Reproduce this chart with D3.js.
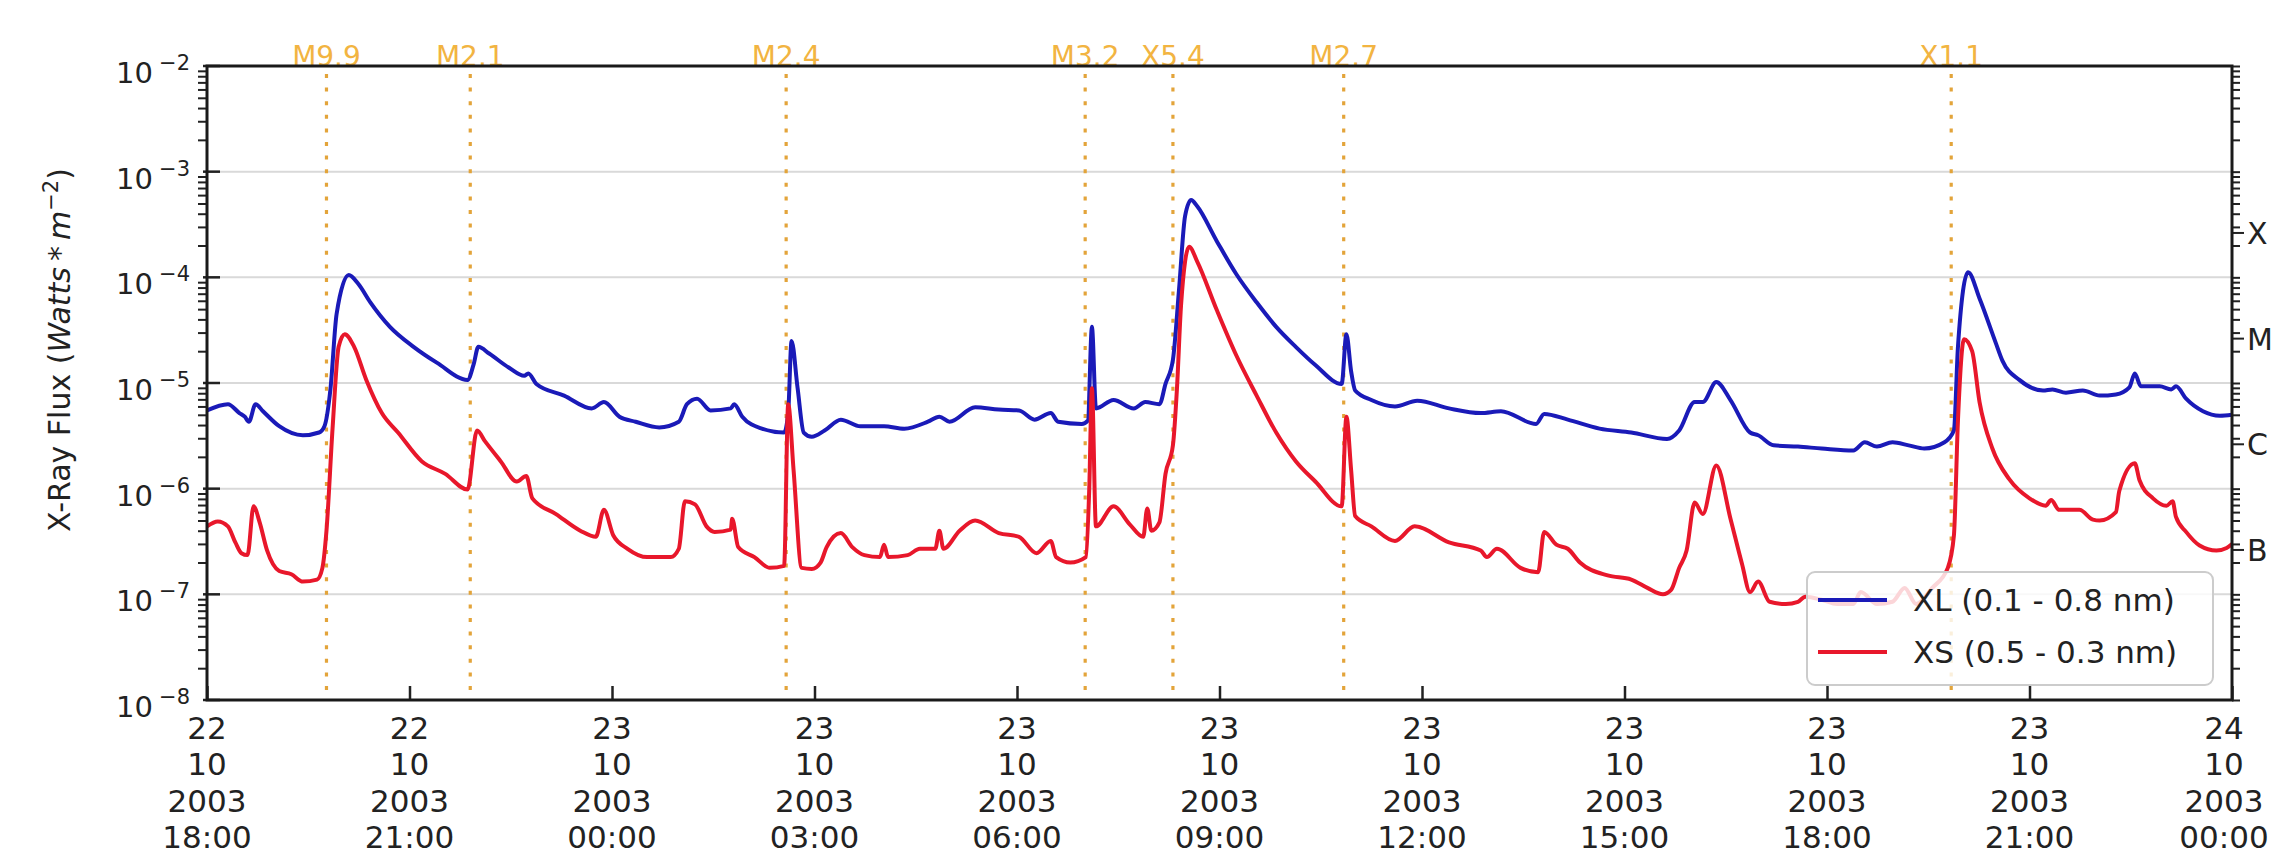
<!DOCTYPE html>
<html>
<head>
<meta charset="utf-8">
<script src="https://cdn.jsdelivr.net/npm/d3@7/dist/d3.min.js"></script>
<style>
html,body{margin:0;padding:0;background:#fff;}
svg{display:block;font-family:"DejaVu Sans",sans-serif;}
</style>
</head>
<body>
<svg id="chart" width="2272" height="857"></svg>
<script>
// ---------------- DATA ----------------
// time axis: hours after 2003-10-22 18:00 UTC
const startTime = "2003-10-22T18:00:00Z";
const endTime   = "2003-10-24T00:00:00Z";
const tickTimes = ["2003-10-22T18:00:00Z","2003-10-22T21:00:00Z","2003-10-23T00:00:00Z","2003-10-23T03:00:00Z",
  "2003-10-23T06:00:00Z","2003-10-23T09:00:00Z","2003-10-23T12:00:00Z","2003-10-23T15:00:00Z",
  "2003-10-23T18:00:00Z","2003-10-23T21:00:00Z","2003-10-24T00:00:00Z"];
const yTickExponents = [-2,-3,-4,-5,-6,-7,-8];

// XL (0.1 - 0.8 nm)
const xlHours = [0.00,0.31,0.48,0.56,0.62,0.72,0.83,1.07,1.42,1.66,1.74,1.83,1.92,2.10,2.24,2.42,2.71,3.06,3.41,3.86,3.95,4.02,4.18,4.47,4.70,4.76,4.88,5.29,5.70,5.88,6.11,6.35,6.70,6.99,7.11,7.26,7.46,7.76,7.81,7.93,8.22,8.55,8.61,8.66,8.75,8.84,8.96,9.15,9.39,9.68,10.03,10.33,10.68,10.85,11.00,11.38,11.73,12.03,12.26,12.50,12.61,12.96,13.05,13.11,13.17,13.43,13.73,13.90,14.11,14.20,14.31,14.40,14.49,14.58,14.67,14.96,15.25,15.55,15.84,16.13,16.42,16.81,16.88,16.95,17.01,17.25,17.60,17.93,18.40,18.87,19.17,19.69,19.81,20.16,20.63,21.10,21.63,21.81,22.04,22.16,22.36,22.57,22.86,22.98,23.21,23.57,23.92,24.39,24.56,24.74,24.97,25.21,25.44,25.74,25.88,25.94,26.09,26.26,26.50,26.60,26.85,27.20,27.34,27.54,27.79,28.04,28.28,28.48,28.56,28.65,28.93,29.10,29.17,29.32,29.57,29.82,30.00];
const xlFlux = [5.5e-6,6.3e-6,5.2e-6,4.8e-6,4.3e-6,6.3e-6,5.4e-6,3.9e-6,3.2e-6,3.4e-6,3.9e-6,8.9e-6,4.5e-5,1.05e-4,8.7e-5,5.8e-5,3.4e-5,2.2e-5,1.55e-5,1.07e-5,1.5e-5,2.2e-5,1.9e-5,1.4e-5,1.17e-5,1.23e-5,9.8e-6,7.6e-6,5.75e-6,6.6e-6,4.8e-6,4.3e-6,3.8e-6,4.3e-6,6.3e-6,7.1e-6,5.5e-6,5.75e-6,6.3e-6,4.8e-6,3.7e-6,3.4e-6,5.2e-6,2.5e-5,8.9e-6,3.4e-6,3.1e-6,3.55e-6,4.5e-6,3.9e-6,3.9e-6,3.7e-6,4.3e-6,4.8e-6,4.3e-6,5.9e-6,5.6e-6,5.5e-6,4.5e-6,5.2e-6,4.3e-6,4.1e-6,4.4e-6,3.4e-5,5.75e-6,6.9e-6,5.75e-6,6.6e-6,6.3e-6,9.8e-6,1.66e-5,7.6e-5,3.8e-4,5.4e-4,4.7e-4,2.2e-4,1.07e-4,5.8e-5,3.4e-5,2.2e-5,1.48e-5,9.8e-6,2.9e-5,1.29e-5,8.5e-6,6.9e-6,6.0e-6,6.8e-6,5.75e-6,5.2e-6,5.4e-6,4.1e-6,5.1e-6,4.5e-6,3.7e-6,3.4e-6,2.95e-6,3.55e-6,6.6e-6,6.6e-6,1.02e-5,6.9e-6,3.4e-6,3.2e-6,2.57e-6,2.5e-6,2.4e-6,2.3e-6,2.75e-6,2.5e-6,2.75e-6,2.57e-6,2.4e-6,2.75e-6,3.55e-6,2.2e-5,1.12e-4,6.3e-5,2.4e-5,1.62e-5,1.07e-5,8.5e-6,8.7e-6,8.1e-6,8.5e-6,7.6e-6,7.8e-6,9.1e-6,1.23e-5,9.3e-6,9.3e-6,8.7e-6,9.3e-6,7.1e-6,5.4e-6,4.9e-6,5.0e-6];

// XS (0.5 - 0.3 nm)
const xsHours = [0.00,0.16,0.31,0.42,0.51,0.60,0.69,0.78,0.89,1.07,1.25,1.42,1.63,1.71,1.77,1.86,1.95,2.04,2.18,2.36,2.59,2.83,3.18,3.53,3.86,4.00,4.12,4.35,4.59,4.73,4.82,5.17,5.53,5.76,5.88,6.02,6.23,6.52,6.87,6.99,7.08,7.23,7.40,7.52,7.76,7.78,7.87,8.11,8.34,8.55,8.61,8.69,8.81,8.96,9.09,9.18,9.39,9.56,9.74,9.97,10.03,10.09,10.38,10.56,10.79,10.85,10.91,11.15,11.38,11.73,12.03,12.29,12.50,12.58,12.79,13.02,13.07,13.11,13.17,13.43,13.67,13.87,13.93,13.99,14.11,14.20,14.31,14.37,14.43,14.55,14.67,14.96,15.25,15.55,15.84,16.13,16.42,16.81,16.88,16.95,17.01,17.25,17.60,17.89,18.40,18.87,18.96,19.11,19.46,19.72,19.81,19.99,20.16,20.34,20.75,21.10,21.34,21.57,21.69,21.81,21.92,22.04,22.16,22.36,22.57,22.74,22.86,22.98,23.15,23.39,23.57,23.68,23.92,24.15,24.39,24.50,24.74,24.97,25.15,25.32,25.56,25.79,25.88,25.94,26.03,26.15,26.26,26.45,26.70,27.00,27.24,27.32,27.44,27.74,27.94,28.04,28.28,28.33,28.56,28.63,28.83,29.03,29.12,29.17,29.32,29.52,29.77,29.92,30.00];
const xsFlux = [4.4e-7,4.9e-7,4.4e-7,3.1e-7,2.45e-7,2.35e-7,6.8e-7,4.8e-7,2.6e-7,1.66e-7,1.55e-7,1.32e-7,1.38e-7,1.78e-7,4.0e-7,3.7e-6,2.2e-5,2.9e-5,2.2e-5,1.07e-5,5.2e-6,3.4e-6,1.82e-6,1.38e-6,9.8e-7,3.55e-6,2.8e-6,1.82e-6,1.17e-6,1.32e-6,8.1e-7,5.75e-7,4.0e-7,3.5e-7,6.3e-7,3.6e-7,2.7e-7,2.25e-7,2.25e-7,2.7e-7,7.6e-7,7.1e-7,4.4e-7,3.9e-7,4.1e-7,5.2e-7,2.8e-7,2.25e-7,1.78e-7,1.86e-7,6.3e-6,1.5e-6,1.78e-7,1.74e-7,2.0e-7,2.8e-7,3.8e-7,2.8e-7,2.35e-7,2.25e-7,2.95e-7,2.25e-7,2.35e-7,2.7e-7,2.7e-7,4.0e-7,2.7e-7,4.0e-7,5.0e-7,3.8e-7,3.5e-7,2.45e-7,3.2e-7,2.25e-7,2.0e-7,2.25e-7,9.8e-7,8.9e-6,4.4e-7,6.8e-7,4.6e-7,3.5e-7,6.5e-7,4.0e-7,4.8e-7,1.38e-6,2.57e-6,8.9e-6,5.4e-5,1.95e-4,1.41e-4,4.9e-5,1.82e-5,7.6e-6,3.4e-6,1.82e-6,1.17e-6,6.8e-7,4.8e-6,1.5e-6,5.5e-7,4.4e-7,3.2e-7,4.4e-7,3.1e-7,2.6e-7,2.25e-7,2.7e-7,1.78e-7,1.62e-7,3.9e-7,2.95e-7,2.7e-7,2.0e-7,1.51e-7,1.38e-7,1.15e-7,1.0e-7,1.1e-7,1.78e-7,2.6e-7,7.4e-7,5.75e-7,1.66e-6,5.2e-7,1.95e-7,1.05e-7,1.32e-7,8.5e-8,8.1e-8,8.5e-8,9.5e-8,8.9e-8,8.1e-8,8.1e-8,1.05e-7,8.1e-8,8.5e-8,1.15e-7,8.1e-8,1.15e-7,1.78e-7,3.6e-7,4.4e-6,2.6e-5,2.0e-5,6.6e-6,2.4e-6,1.23e-6,8.1e-7,6.9e-7,7.8e-7,6.3e-7,6.3e-7,5.1e-7,5.0e-7,6.0e-7,9.5e-7,1.74e-6,1.2e-6,8.1e-7,6.9e-7,7.6e-7,5.4e-7,3.9e-7,2.9e-7,2.6e-7,2.75e-7,3.0e-7];

// flare markers
const flareNames = ["M9.9","M2.1","M2.4","M3.2","X5.4","M2.7","X1.1"];
const flareHours = [1.77,3.90,8.58,13.01,14.31,16.84,25.84];

// GOES class labels on right axis
const classLabels = ["X","M","C","B"];
const classCenters = [2.63e-4,2.63e-5,2.63e-6,2.63e-7];

const seriesNames = ["XL (0.1 - 0.8 nm)","XS (0.5 - 0.3 nm)"];
const seriesColors = ["#1a1ab8","#e8172b"];

// ---------------- LAYOUT ----------------
const L = 207, R = 2232, T = 66, B = 700;
const svg = d3.select("#chart");
const t0 = new Date(startTime);
const toDate = h => new Date(t0.getTime() + h*3600e3);

const x = d3.scaleUtc().domain([new Date(startTime), new Date(endTime)]).range([L, R]);
const y = d3.scaleLog().domain([1e-8, 1e-2]).range([B, T]);

// grid lines
svg.append("g").selectAll("line").data(yTickExponents.slice(1,-1)).join("line")
  .attr("x1", L).attr("x2", R)
  .attr("y1", d => y(Math.pow(10,d))).attr("y2", d => y(Math.pow(10,d)))
  .attr("stroke", "#d9d9d9").attr("stroke-width", 2);

// flare lines
svg.append("g").selectAll("line").data(flareHours).join("line")
  .attr("x1", d => x(toDate(d))).attr("x2", d => x(toDate(d)))
  .attr("y1", T+8).attr("y2", B)
  .attr("stroke", "#e3a43a").attr("stroke-width", 3.2)
  .attr("stroke-dasharray", "4,9.6");

// series
const line = d3.line().x(d => x(toDate(d[0]))).y(d => y(d[1])).curve(d3.curveMonotoneX);
const xlData = xlHours.map((h,i) => [h, xlFlux[i]]);
const xsData = xsHours.map((h,i) => [h, xsFlux[i]]);
svg.append("path").datum(xlData).attr("d", line).attr("fill","none")
  .attr("stroke", seriesColors[0]).attr("stroke-width", 4).attr("stroke-linejoin","round");
svg.append("path").datum(xsData).attr("d", line).attr("fill","none")
  .attr("stroke", seriesColors[1]).attr("stroke-width", 4).attr("stroke-linejoin","round");

// flare labels
svg.append("g").selectAll("text").data(flareNames).join("text")
  .attr("x", (d,i) => x(toDate(flareHours[i])))
  .attr("y", T)
  .attr("text-anchor","middle")
  .attr("font-size", 28)
  .attr("fill", "#f2b441")
  .text(d => d);

// x axis ticks (inside)
const tickDates = tickTimes.map(s => new Date(s));
const xAxis = d3.axisBottom(x).tickValues(tickDates).tickSize(-14).tickFormat("");
const gx = svg.append("g").attr("transform", `translate(0,${B})`).call(xAxis);
gx.select(".domain").remove();
gx.selectAll(".tick line").attr("stroke","#222").attr("stroke-width",2.5);

// x tick labels (4 lines); keep the last one inside the page
const fmts = [d3.utcFormat("%d"), d3.utcFormat("%m"), d3.utcFormat("%Y"), d3.utcFormat("%H:%M")];
const labelX = (d,i) => Math.min(x(d), 2224);
const xl = svg.append("g").selectAll("text").data(tickDates).join("text")
  .attr("text-anchor","middle").attr("font-size",31).attr("fill","#222");
fmts.forEach((f,k) => {
  xl.append("tspan").attr("x", labelX).attr("y", 739 + k*36.3).text(d => f(d));
});

// y axis ticks
const yAxisMinor = d3.axisLeft(y).tickValues(
  d3.range(-8,-2).flatMap(e => d3.range(2,10).map(m => m*Math.pow(10,e)))
).tickSize(9).tickFormat("");
const gym = svg.append("g").attr("transform", `translate(${L},0)`).call(yAxisMinor);
gym.select(".domain").remove();
gym.selectAll(".tick line").attr("stroke","#222").attr("stroke-width",2);

svg.append("g").selectAll("line").data(yTickExponents).join("line")
  .attr("x1", L-4).attr("x2", L+13)
  .attr("y1", d => y(Math.pow(10,d))).attr("y2", d => y(Math.pow(10,d)))
  .attr("stroke","#222").attr("stroke-width",2.5);

// y tick labels 10^n
const yl = svg.append("g").selectAll("text").data(yTickExponents).join("text")
  .attr("fill","#222").attr("text-anchor","end");
yl.each(function(d){
  const t = d3.select(this);
  const yy = y(Math.pow(10,d));
  t.append("tspan").attr("x", 153).attr("y", yy+17).attr("font-size",29).text("10");
  t.append("tspan").attr("x", 190).attr("y", yy+4).attr("font-size",21).text("\u2212" + Math.abs(d));
});

// right axis ticks
const yAxisR = d3.axisRight(y).tickValues(
  d3.range(-8,-2).flatMap(e => d3.range(1,10).map(m => m*Math.pow(10,e))).concat([1e-2])
).tickSize(8).tickFormat("");
const gyr = svg.append("g").attr("transform", `translate(${R},0)`).call(yAxisR);
gyr.select(".domain").remove();
gyr.selectAll(".tick line").attr("stroke","#222").attr("stroke-width",2);
svg.append("g").selectAll("line").data(classCenters).join("line")
  .attr("x1", R).attr("x2", R+12)
  .attr("y1", d => y(d)).attr("y2", d => y(d))
  .attr("stroke","#222").attr("stroke-width",2);
svg.append("g").selectAll("text").data(classLabels).join("text")
  .attr("x", R+15).attr("y", (d,i) => y(classCenters[i]) + 11)
  .attr("font-size", 30).attr("fill","#222").text(d => d);

// frame
svg.append("rect").attr("x",L).attr("y",T).attr("width",R-L).attr("height",B-T)
  .attr("fill","none").attr("stroke","#1a1a1a").attr("stroke-width",3);

// legend
const lg = svg.append("g");
lg.append("rect").attr("x",1807).attr("y",572).attr("width",406).attr("height",113).attr("rx",8)
  .attr("fill","#fff").attr("fill-opacity",0.82).attr("stroke","#cccccc").attr("stroke-width",2);
seriesNames.forEach((n,i) => {
  const yy = 600 + i*52;
  lg.append("line").attr("x1",1818).attr("x2",1887).attr("y1",yy).attr("y2",yy)
    .attr("stroke", seriesColors[i]).attr("stroke-width",4);
  lg.append("text").attr("x",1913).attr("y",yy+11).attr("font-size",31).attr("fill","#222").text(n);
});

// y axis label
const yLab = svg.append("text").attr("transform", `translate(70,350) rotate(-90)`)
  .attr("text-anchor","middle").attr("font-size",30).attr("fill","#222");
yLab.append("tspan").text("X-Ray Flux (");
yLab.append("tspan").attr("font-style","italic").text("Watts");
yLab.append("tspan").text("\u2009*\u2009");
yLab.append("tspan").attr("font-style","italic").text("m");
yLab.append("tspan").attr("dy",-12).attr("font-size",21).text("\u22122");
yLab.append("tspan").attr("dy",12).text(")");
</script>
</body>
</html>
